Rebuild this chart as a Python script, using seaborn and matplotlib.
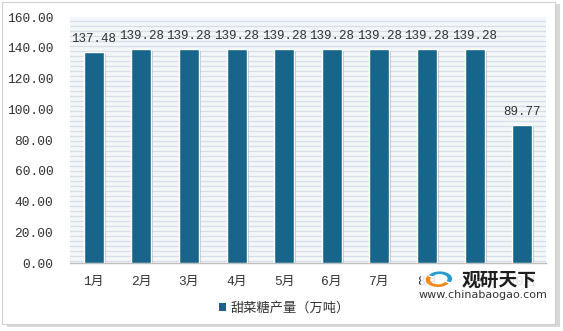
import matplotlib
matplotlib.use("Agg")
import matplotlib.pyplot as plt
import seaborn as sns
import numpy as np
import pandas as pd
from matplotlib.patches import Patch, Rectangle, Wedge
from matplotlib import patheffects as pe

months = ["1月", "2月", "3月", "4月", "5月", "6月", "7月", "8月", "9月", "10月"]
values = [137.48, 139.28, 139.28, 139.28, 139.28, 139.28, 139.28, 139.28, 139.28, 89.77]
yticks = [0, 20, 40, 60, 80, 100, 120, 140, 160]
series_name = "甜菜糖产量（万吨）"

sns.set_style("white")
plt.rcParams["font.family"] = ["Liberation Mono", "Noto Sans CJK SC", "DejaVu Sans"]

bar_color = "#17658A"
df = pd.DataFrame({"month": months, "value": values})

fig = plt.figure(figsize=(5.63, 3.31), dpi=100)
fig.patch.set_facecolor("white")
# outer frame with shadow
fig.patches.append(Rectangle((0.012, 0.012), 0.982, 0.975, transform=fig.transFigure,
                             facecolor="#D8D8D8", edgecolor="none", zorder=-2))
fig.patches.append(Rectangle((0.004, 0.022), 0.982, 0.972, transform=fig.transFigure,
                             facecolor="white", edgecolor="#D0D0D0", linewidth=0.8, zorder=-1))

ax = fig.add_axes([0.1243, 0.2054, 0.8455, 0.7432])
ax.set_facecolor("#F3F7FA")
for y in np.arange(1.6, 160, 3.24):
    ax.axhline(y, color="#D6DFE7", linewidth=0.9, zorder=0)

sns.barplot(data=df, x="month", y="value", color=bar_color, width=0.42,
            saturation=1, ax=ax, zorder=3)
for p in ax.patches:
    p.set_path_effects([pe.SimplePatchShadow(offset=(1.5, -1.5), shadow_rgbFace="#9AA5AE", alpha=0.6),
                        pe.Normal()])

for i, v in enumerate(values):
    ax.annotate(f"{v:.2f}", (i, v), xytext=(0, 5), textcoords="offset points",
                ha="center", va="bottom", fontsize=9, color="#333333",
                family=["Liberation Mono", "Noto Sans CJK SC"], zorder=4)

ax.set_ylim(0, 160)
ax.set_xlim(-0.5, len(months) - 0.5)
ax.set_yticks(yticks)
ax.set_yticklabels([f"{t:.2f}" for t in yticks], fontsize=9.3, color="#333333")
ax.set_xticks(range(len(months)))
ax.set_xticklabels(months, fontsize=9.3, color="#333333")
ax.tick_params(axis="both", length=0)
ax.tick_params(axis="y", pad=12)
ax.tick_params(axis="x", pad=9)
ax.set_xlabel("")
ax.set_ylabel("")
for s in ["top", "right", "left"]:
    ax.spines[s].set_visible(False)
ax.spines["bottom"].set_color("#BFBFBF")
ax.spines["bottom"].set_linewidth(1)

handle = Patch(facecolor=bar_color, edgecolor="none", label=series_name)
fig.legend(handles=[handle], loc="center", bbox_to_anchor=(0.505, 0.07), frameon=False,
           handlelength=0.55, handleheight=0.55, handletextpad=0.3,
           prop={"family": ["Noto Sans CJK SC"], "size": 9.5}, labelcolor="#333333")

# watermark (logo + brand text)
fig.patches.append(Rectangle((0.748, 0.09), 0.22, 0.1, transform=fig.transFigure,
                             facecolor="white", edgecolor="none", alpha=0.85, zorder=9))
fig.patches.append(Wedge((0.778, 0.155), 0.022, 150, 330, width=0.008, transform=fig.transFigure,
                         facecolor="#F08A1C", edgecolor="none", zorder=10))
fig.patches.append(Wedge((0.781, 0.158), 0.022, 330, 150, width=0.008, transform=fig.transFigure,
                         facecolor="#2A9BD0", edgecolor="none", zorder=10))
fig.text(0.82, 0.152, "观研天下", fontsize=13.5, fontweight="bold", color="#1E1E1E",
         family=["Noto Sans CJK SC"], ha="left", va="center", zorder=11)
fig.text(0.857, 0.108, "www.chinabaogao.com", fontsize=8, color="#333333",
         family=["DejaVu Sans"], ha="center", va="center", zorder=11)

fig.savefig("out.png", dpi=100)
